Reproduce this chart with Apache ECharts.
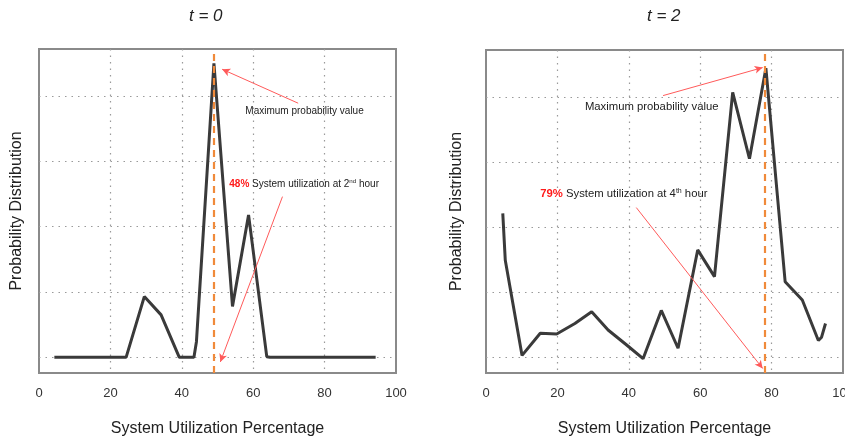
<!DOCTYPE html>
<html>
<head>
<meta charset="utf-8">
<script src="https://cdn.jsdelivr.net/npm/echarts@6/dist/echarts.min.js"></script>
<style>
html,body{margin:0;padding:0;background:#fff;}
#c{width:845px;height:438px;}
</style>
</head>
<body>
<div id="c"></div>
<script>
// ---- data ----
const xTickLabels = [0, 20, 40, 60, 80, 100];
const leftX = [4.3, 24.4, 29.5, 34.2, 39.3, 43.4, 44.1, 49.0, 54.2, 58.7, 63.8, 64.7, 94.3];
const leftY = [0, 0, 0.93, 0.65, 0, 0, 0.24, 4.50, 0.78, 2.18, 0.01, 0, 0];
const rightX = [4.7, 5.4, 10.1, 15.2, 19.8, 24.9, 29.6, 34.2, 39.4, 44.0, 49.1, 53.8, 59.3, 64.0, 69.1, 73.8, 78.4, 83.8, 88.6, 93.1, 94.0, 95.1];
const rightY = [2.21, 1.49, 0.03, 0.37, 0.36, 0.52, 0.70, 0.42, 0.19, -0.02, 0.72, 0.14, 1.65, 1.24, 4.07, 3.05, 4.44, 1.16, 0.88, 0.26, 0.31, 0.52];
const leftPeakX = 49.0;
const rightPeakX = 78.2;
const titles = ['t = 0', 't = 2'];
const leftPct = '48%';
const rightPct = '79%';
const leftHour = ['2', 'nd'];
const rightHour = ['4', 'th'];
// annotation anchors in data units: [fromX, fromY, toX, toY]
const leftArrowMax = [72.6, 3.89, 51.3, 4.41];
const leftArrowUtil = [68.2, 2.46, 50.8, -0.07];
const rightArrowMax = [49.6, 4.02, 77.5, 4.45];
const rightArrowUtil = [42.1, 2.30, 77.5, -0.17];
// text anchors [x, y] (left edge, vertical middle)
const leftTextMax = [57.8, 3.76];
const leftTextUtil = [53.3, 2.65];
const rightTextMax = [27.7, 3.85];
const rightTextUtil = [15.2, 2.51];

const FONT = '"Liberation Sans", Arial, sans-serif';
const NARROW = '"Liberation Sans Narrow", "Liberation Sans", Arial, sans-serif';
const zip = (a, b) => a.map((v, i) => [v, b[i]]);

function xAxisCfg(idx) {
  return {
    gridIndex: idx, type: 'value', min: 0, max: 100, interval: 20,
    name: 'System Utilization Percentage', nameLocation: 'middle', nameGap: 48,
    nameTextStyle: {fontFamily: FONT, fontSize: 16, color: '#222'},
    axisLine: {show: false}, axisTick: {show: false},
    axisLabel: {fontFamily: NARROW, fontSize: 13, color: '#333', margin: 14,
      formatter: v => xTickLabels.includes(v) ? String(v) : ''},
    splitLine: {show: true, showMinLine: false, showMaxLine: false,
      lineStyle: {type: [1.5, 5], color: '#9a9a9a', width: 1.2}}
  };
}
function yAxisCfg(idx, gap) {
  return {
    gridIndex: idx, type: 'value', min: -0.24, max: 4.72, splitNumber: 5,
    name: 'Probability Distribution', nameLocation: 'middle', nameGap: gap,
    nameTextStyle: {fontFamily: FONT, fontSize: 16, color: '#222'},
    axisLine: {show: false}, axisTick: {show: false}, axisLabel: {show: false},
    splitLine: {show: true, showMinLine: false, showMaxLine: false,
      lineStyle: {type: [1.5, 5], color: '#9a9a9a', width: 1.2}}
  };
}
function arrow(a) {
  return [
    {coord: [a[0], a[1]], symbol: 'none'},
    {coord: [a[2], a[3]], symbol: 'arrow', symbolSize: [6, 8]}
  ];
}
function textPoint(pos, fmt, fs) {
  return {
    coord: pos, symbol: 'circle', symbolSize: 0,
    label: {show: true, position: 'right', distance: 0, formatter: fmt,
      fontFamily: FONT, fontSize: fs, color: '#222', align: 'left', verticalAlign: 'middle',
      rich: {
        r: {color: '#ff1a1a', fontWeight: 'bold', fontFamily: FONT, fontSize: fs},
        sup: {fontSize: fs * 0.62, fontFamily: FONT, color: '#222', verticalAlign: 'top', padding: [0, 0, fs * 0.5, 0]}
      }}
  };
}
function seriesCfg(idx, xs, ys, peakX, arrMax, arrUtil, tMax, tUtil, pct, hour, fs) {
  return {
    type: 'line', xAxisIndex: idx, yAxisIndex: idx, data: zip(xs, ys),
    symbol: 'none', smooth: false, silent: true,
    lineStyle: {color: '#3a3a3a', width: 3},
    markLine: {
      silent: true, animation: false,
      label: {show: false},
      data: [
        [{xAxis: peakX, yAxis: -0.24, symbol: 'none'}, {xAxis: peakX, yAxis: 4.72, symbol: 'none',
          lineStyle: {color: '#f08a3a', width: 2.2, type: [7, 5]}}],
        arrow(arrMax), arrow(arrUtil)
      ],
      lineStyle: {color: '#ff5a5a', width: 1, type: 'solid'}
    },
    markPoint: {
      silent: true, animation: false,
      data: [
        textPoint(tMax, 'Maximum probability value', fs),
        textPoint(tUtil, '{r|' + pct + '} System utilization at ' + hour[0] + '{sup|' + hour[1] + '} hour', fs)
      ]
    }
  };
}

const chart = echarts.init(document.getElementById('c'), null, {renderer: 'canvas'});
chart.setOption({
  animation: false,
  backgroundColor: '#fff',
  title: [
    {text: titles[0], left: 184, top: 3, textStyle: {fontFamily: FONT, fontSize: 17, fontStyle: 'italic', fontWeight: 'normal', color: '#222'}},
    {text: titles[1], left: 642, top: 3, textStyle: {fontFamily: FONT, fontSize: 17, fontStyle: 'italic', fontWeight: 'normal', color: '#222'}}
  ],
  grid: [
    {left: 39, top: 49, width: 357, height: 324, show: true, borderColor: '#8a8a8a', borderWidth: 2, backgroundColor: '#fff', containLabel: false, outerBoundsMode: 'none'},
    {left: 486, top: 50, width: 357, height: 323, show: true, borderColor: '#8a8a8a', borderWidth: 2, backgroundColor: '#fff', containLabel: false, outerBoundsMode: 'none'}
  ],
  xAxis: [xAxisCfg(0), xAxisCfg(1)],
  yAxis: [yAxisCfg(0, 14), yAxisCfg(1, 21)],
  series: [
    seriesCfg(0, leftX, leftY, leftPeakX, leftArrowMax, leftArrowUtil, leftTextMax, leftTextUtil, leftPct, leftHour, 10),
    seriesCfg(1, rightX, rightY, rightPeakX, rightArrowMax, rightArrowUtil, rightTextMax, rightTextUtil, rightPct, rightHour, 11.3)
  ]
});
</script>
</body>
</html>
